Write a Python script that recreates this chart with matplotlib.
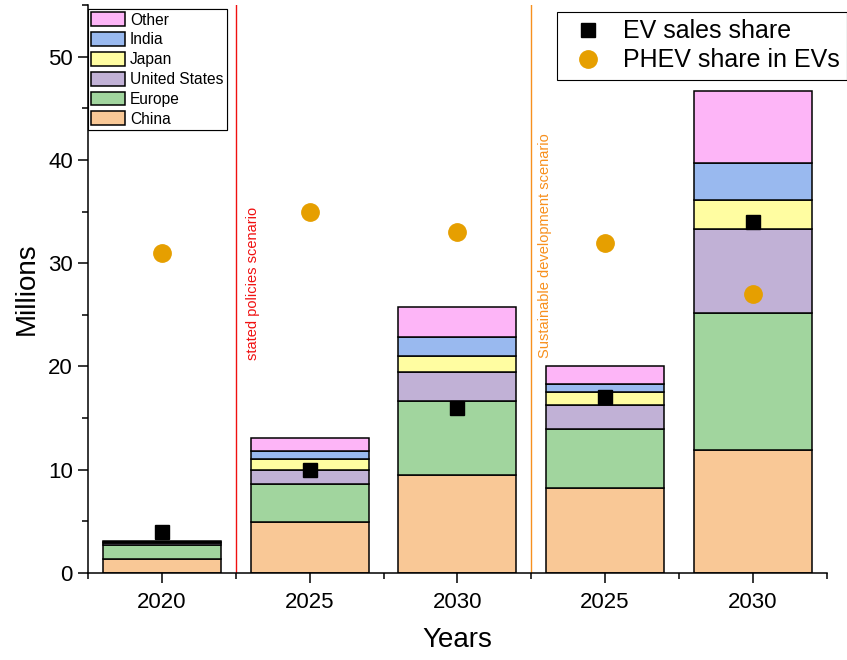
import matplotlib.pyplot as plt
import numpy as np
from matplotlib.ticker import MultipleLocator, FixedLocator

plt.rcParams['font.family'] = ['Liberation Sans', 'DejaVu Sans']

# data (millions of EVs)
years = ['2020', '2025', '2030', '2025', '2030']
china = [1.3, 4.9, 9.5, 8.2, 11.95]
europe = [1.4, 3.7, 7.15, 5.75, 13.25]
united_states = [0.2, 1.4, 2.85, 2.35, 8.1]
japan = [0.05, 1.0, 1.5, 1.2, 2.8]
india = [0.05, 0.85, 1.9, 0.8, 3.65]
other = [0.1, 1.2, 2.9, 1.7, 6.9]
ev_sales_share = [4, 10, 16, 17, 34]
phev_share = [31, 35, 33, 32, 27]

regions = ['China', 'Europe', 'United States', 'Japan', 'India', 'Other']
colors = ['#F9C896', '#A1D59E', '#C1B1D6', '#FFFDA1', '#99B9EF', '#FDB5F7']
series = [china, europe, united_states, japan, india, other]

fig = plt.figure(figsize=(8.47, 6.6), dpi=100)
ax = fig.add_axes([0.104, 0.132, 0.872, 0.860])

x = np.arange(len(years))
bottom = np.zeros(len(years))
bar_handles = []
for name, vals, col in zip(regions, series, colors):
    b = ax.bar(x, vals, 0.8, bottom=bottom, color=col, edgecolor='black',
               linewidth=1.1, label=name, zorder=2)
    bar_handles.append(b)
    bottom += np.array(vals)

sq = ax.plot(x, ev_sales_share, 's', color='black', markersize=10.5,
             linestyle='none', zorder=4)[0]
ci = ax.plot(x, phev_share, 'o', color='#E69F00', markersize=12.5,
             linestyle='none', zorder=4)[0]

# scenario separators
ax.axvline(0.5, color='#F01010', linewidth=1.0, zorder=1)
ax.axvline(2.5, color='#F7901E', linewidth=1.0, zorder=1)
ax.text(0.615, 20.6, 'stated policies scenario', rotation=90, color='#F01010',
        fontsize=10.5, ha='center', va='bottom')
ax.text(2.595, 20.8, 'Sustainable development scenario', rotation=90,
        color='#F7901E', fontsize=10.5, ha='center', va='bottom')

ax.set_xlim(-0.5, 4.5)
ax.set_ylim(0, 55)
ax.set_xticks(x)
ax.set_xticklabels(years)
ax.xaxis.set_minor_locator(FixedLocator(np.arange(-0.5, 4.6, 1.0)))
ax.yaxis.set_major_locator(MultipleLocator(10))
ax.yaxis.set_minor_locator(MultipleLocator(5))
ax.tick_params(which='major', direction='out', length=7, width=1.1, labelsize=16)
ax.tick_params(which='minor', direction='out', length=4, width=1.1)
ax.tick_params(axis='x', which='major', pad=7)
ax.tick_params(axis='y', which='major', pad=4)
for s in ['top', 'right']:
    ax.spines[s].set_visible(False)
for s in ['left', 'bottom']:
    ax.spines[s].set_linewidth(1.1)

ax.set_xlabel('Years', fontsize=20, labelpad=10)
ax.set_ylabel('Millions', fontsize=20, labelpad=6)

leg1 = ax.legend(bar_handles[::-1], regions[::-1], loc='upper left',
                 bbox_to_anchor=(0.0, 0.993),
                 fontsize=11.2, handlelength=2.2, handleheight=1.0,
                 labelspacing=0.29, handletextpad=0.3, borderpad=0.2,
                 borderaxespad=0.0, fancybox=False, edgecolor='black',
                 framealpha=1)
leg1.get_frame().set_linewidth(0.8)
ax.add_artist(leg1)

leg2 = fig.legend([sq, ci], ['EV sales share', 'PHEV share in EVs'],
                  loc='upper right', bbox_to_anchor=(1.0, 0.982),
                  fontsize=18, handlelength=1.9, handletextpad=0.45,
                  labelspacing=0.2, borderpad=0.3, borderaxespad=0.0,
                  fancybox=False, edgecolor='black', framealpha=1)
leg2.get_frame().set_linewidth(0.8)

fig.savefig('out.png', dpi=100)
